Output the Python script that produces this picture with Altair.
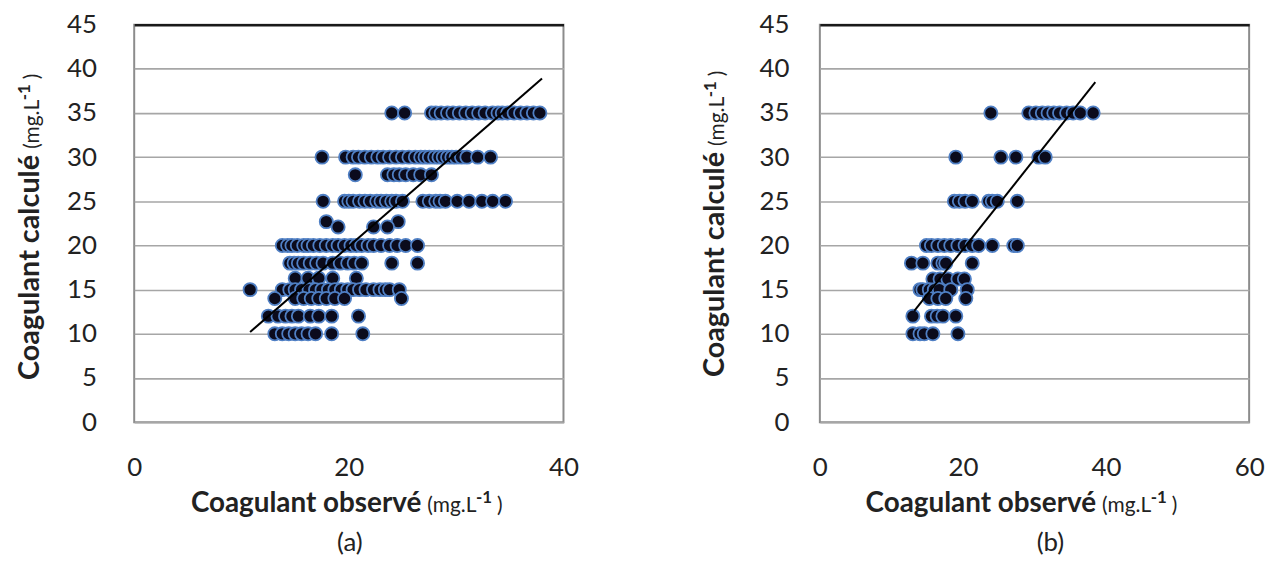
import altair as alt
import pandas as pd

FONT = "Lato"
INK = "#222222"

# ---------------- Panel (a) data ----------------
A_LEVELS = [35, 30, 28, 25, 22.7, 22.1, 20, 18, 16.3, 15, 14, 12, 10]
A_X = [
    [24.0, 25.2, 27.7, 28.1, 28.6, 29.2, 29.7, 30.3, 30.9, 31.5, 32.1, 32.7, 33.4, 33.9, 34.3, 34.8, 35.4, 36.0, 36.6, 37.2, 37.8],
    [17.5, 19.7, 20.4, 20.9, 21.5, 22.1, 22.7, 23.2, 23.8, 24.4, 25.0, 25.6, 26.2, 26.7, 27.1, 27.5, 28.0, 28.4, 28.8, 29.2, 29.6, 30.0, 30.5, 31.0, 32.0, 33.2],
    [20.6, 23.6, 24.2, 24.7, 25.3, 26.0, 26.7, 27.7],
    [17.6, 19.6, 20.0, 20.4, 21.0, 21.5, 22.0, 22.6, 23.0, 23.5, 24.0, 24.4, 25.0, 26.9, 27.5, 28.1, 28.5, 29.0, 30.1, 31.2, 32.4, 33.4, 34.6],
    [17.9, 24.6],
    [19.0, 22.3, 23.6],
    [13.8, 14.3, 14.7, 15.2, 15.8, 16.2, 16.7, 17.3, 17.9, 18.5, 19.0, 19.6, 20.2, 20.7, 21.2, 21.8, 22.3, 23.0, 23.8, 24.5, 25.3, 26.4],
    [14.5, 14.9, 15.3, 15.8, 16.4, 17.0, 17.6, 18.5, 19.2, 19.9, 20.5, 21.2, 24.0, 26.4],
    [15.0, 16.2, 17.2, 18.5, 20.7],
    [10.8, 13.8, 14.5, 15.0, 15.6, 16.3, 16.9, 17.5, 18.1, 18.7, 19.3, 19.9, 20.4, 21.0, 21.6, 22.3, 22.9, 23.4, 23.8, 24.7],
    [13.1, 15.0, 15.8, 16.5, 17.2, 17.9, 18.7, 19.6, 24.9],
    [12.5, 13.4, 14.1, 14.7, 15.3, 16.4, 17.2, 18.4, 20.9],
    [13.1, 13.8, 14.4, 15.0, 15.6, 16.2, 16.9, 18.4, 21.3],
]
A_TREND_X = [10.8, 38.0]
A_TREND_Y = [10.2, 38.9]
A_XTICKS = [0, 20, 40]

# ---------------- Panel (b) data ----------------
B_LEVELS = [35, 30, 25, 20, 18, 16.2, 15, 14, 12, 10]
B_X = [
    [23.9, 29.2, 30.2, 31.1, 31.9, 32.7, 33.5, 34.5, 35.4, 36.4, 38.2],
    [19.0, 25.3, 27.4, 30.6, 31.5],
    [18.8, 19.5, 20.3, 21.3, 23.6, 24.1, 24.8, 27.6],
    [14.9, 15.6, 16.5, 17.4, 18.3, 19.3, 20.3, 21.3, 22.2, 24.1, 27.1, 27.6],
    [12.8, 14.4, 16.5, 17.2, 17.6, 21.3],
    [15.8, 16.8, 17.9, 19.3, 20.2],
    [14.0, 14.4, 15.3, 16.0, 16.7, 18.3, 20.6],
    [15.3, 16.5, 17.6, 20.4],
    [13.0, 15.6, 16.4, 17.2, 19.0],
    [13.0, 14.0, 14.6, 15.8, 19.3],
]
B_TREND_X = [13.2, 38.5]
B_TREND_Y = [12.6, 38.5]
B_XTICKS = [0, 20, 40, 60]

Y_TICKS = [0, 5, 10, 15, 20, 25, 30, 35, 40, 45]

X_TITLE = "Coagulant observé"
Y_TITLE = "Coagulant calculé"
UNIT_MAIN = "(mg.L"
UNIT_SUP = "-1"
UNIT_END = ")"


def points_df(levels, xs):
    rows = [(x, y) for y, row in zip(levels, xs) for x in row]
    return pd.DataFrame(rows, columns=["obs", "calc"])


def txt(text, x, y, size, weight="normal", angle=0, align="center", baseline="alphabetic"):
    kw = dict(font=FONT, fontSize=size, fontWeight=weight, align=align,
              baseline=baseline, color=INK)
    if angle:
        kw["angle"] = angle
    return alt.Chart(pd.DataFrame({"t": [text]})).mark_text(**kw).encode(
        x=alt.value(x), y=alt.value(y), text="t:N")


def unit_h(x, y):
    return [
        txt(UNIT_MAIN, x, y, 21, align="left"),
        txt(UNIT_SUP, x + 49, y - 9, 17, weight="bold", align="left"),
        txt(UNIT_END, x + 70, y, 21, align="left"),
    ]


def unit_v(x, y):
    return [
        txt(UNIT_MAIN, x, y, 21, angle=270, align="left"),
        txt(UNIT_SUP, x - 9, y - 49, 17, weight="bold", angle=270, align="left"),
        txt(UNIT_END, x, y - 70, 21, angle=270, align="left"),
    ]


def panel(levels, xs, tx, ty, xmax, xticks, ylab_pad, ytitle_y, xtitle_x, letter, letter_x):
    W, H = 432, 400
    xsc = alt.Scale(domain=[0, xmax], nice=False, zero=False)
    ysc = alt.Scale(domain=[0, 45], nice=False)
    xaxis = alt.Axis(values=xticks, grid=False, ticks=False, domain=False,
                     labelPadding=33, labelFontSize=26, labelFont=FONT,
                     labelColor=INK, labelFlush=False, title=None)
    yaxis = alt.Axis(values=Y_TICKS, grid=True, ticks=False, domain=False,
                     gridColor={"condition": {"test": "datum.value == 45", "value": "#1a1a1a"}, "value": "#a6a6a6"},
                     gridWidth={"condition": {"test": "datum.value == 45", "value": 2.5}, "value": 1.6},
                     labelPadding=ylab_pad, labelFontSize=26, labelFont=FONT,
                     labelColor=INK, title=None)
    pts = alt.Chart(points_df(levels, xs)).mark_circle(
        size=175, color="#0b0b1c", opacity=1, stroke="#4f7fc4", strokeWidth=1.8
    ).encode(
        x=alt.X("obs:Q", scale=xsc, axis=xaxis),
        y=alt.Y("calc:Q", scale=ysc, axis=yaxis),
    )
    trend = alt.Chart(pd.DataFrame({"obs": tx, "calc": ty})).mark_line(
        color="black", strokeWidth=2
    ).encode(x=alt.X("obs:Q", scale=xsc), y=alt.Y("calc:Q", scale=ysc))

    layers = [
        pts, trend,
        txt(X_TITLE, xtitle_x, 490, 28, weight="bold", align="right"),
        *unit_h(xtitle_x + 6, 490),
        txt(Y_TITLE, -96, ytitle_y, 29, weight="bold", angle=270, align="right"),
        *unit_v(-96, ytitle_y - 6),
        txt(letter, letter_x, 522, 26, baseline="middle"),
    ]
    return alt.layer(*layers).properties(width=W, height=H)


pa = panel(A_LEVELS, A_X, A_TREND_X, A_TREND_Y, 40, A_XTICKS, 38, 131, 289, "(a)", 217)
pb = panel(B_LEVELS, B_X, B_TREND_X, B_TREND_Y, 60, B_XTICKS, 31, 128, 278, "(b)", 232)

chart = alt.hconcat(pa, pb, spacing=258, bounds="flush").configure_view(
    stroke="#8c8c8c", strokeWidth=2
).properties(
    background="white",
    padding={"left": 7, "top": 1, "right": 5, "bottom": 5},
)

chart.save("out.html", embed_options={"renderer": "svg", "actions": False})
